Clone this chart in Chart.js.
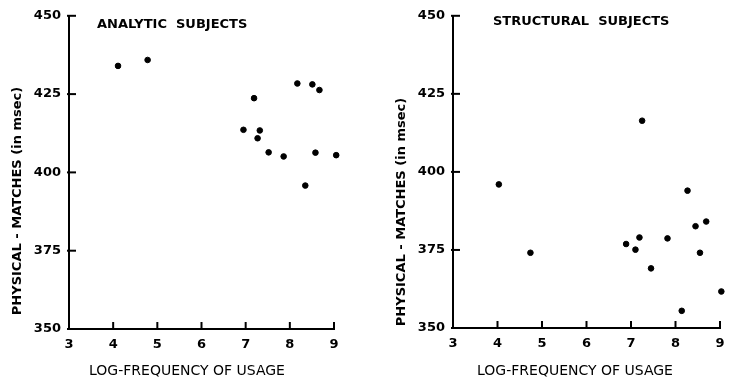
<!DOCTYPE html>
<html>
<head>
<meta charset="utf-8">
<script src="https://cdn.jsdelivr.net/npm/chart.js@4/dist/chart.umd.min.js"></script>
<style>
  body { margin: 0; background: #fff; }
  .panel { position: absolute; top: 0; }
</style>
</head>
<body>
<div class="panel" style="left:0"><canvas id="analytic" width="370" height="382"></canvas></div>
<div class="panel" style="left:370px"><canvas id="structural" width="363" height="382"></canvas></div>
<script>
const xTicks = [3, 4, 5, 6, 7, 8, 9];
const yTicks = [350, 375, 400, 425, 450];

// analytic subjects: log-frequency vs physical-match RT
const analyticFreq = [4.11, 4.78, 8.17, 8.51, 8.67, 7.19, 6.95, 7.32, 7.27, 7.52, 7.86, 8.58, 9.05, 8.35];
const analyticRT = [434.0, 435.9, 428.4, 428.1, 426.3, 423.7, 413.6, 413.4, 410.9, 406.4, 405.1, 406.3, 405.5, 395.8];

// structural subjects
const structuralFreq = [7.25, 4.03, 8.27, 8.45, 8.69, 6.89, 7.19, 7.10, 7.82, 4.74, 8.55, 7.45, 9.03, 8.14];
const structuralRT = [416.4, 396.0, 394.0, 382.6, 384.1, 376.9, 379.0, 375.1, 378.7, 374.1, 374.1, 369.1, 361.7, 355.5];

const FONT = '"DejaVu Sans", sans-serif';

function makeChart(id, freq, rt, title, cfg) {
    const points = freq.map((f, i) => ({ x: f, y: rt[i] }));

    const labels = {
        id: 'labels',
        afterDraw(chart) {
            const ctx = chart.ctx;
            const area = chart.chartArea;
            const xs = chart.scales.x, ys = chart.scales.y;
            ctx.save();
            // tick marks point into the plot, like the original
            ctx.strokeStyle = '#000';
            ctx.lineWidth = 2;
            xTicks.forEach(v => {
                const px = xs.getPixelForValue(v);
                ctx.beginPath();
                ctx.moveTo(px, area.bottom);
                ctx.lineTo(px, area.bottom - 7);
                ctx.stroke();
            });
            yTicks.forEach(v => {
                const py = ys.getPixelForValue(v);
                ctx.beginPath();
                ctx.moveTo(area.left - 2, py);
                ctx.lineTo(area.left + 7, py);
                ctx.stroke();
            });

            ctx.fillStyle = '#000';
            ctx.textBaseline = 'middle';
            ctx.font = 'bold 13px ' + FONT;
            ctx.textAlign = 'left';
            ctx.fillText(title, cfg.titleX, cfg.titleY);

            ctx.font = '14px ' + FONT;
            ctx.textAlign = 'center';
            ctx.fillText('LOG-FREQUENCY OF USAGE', cfg.xTitleX, cfg.xTitleY);

            ctx.font = 'bold 13px ' + FONT;
            ctx.translate(cfg.yTitleX, cfg.yTitleY);
            ctx.rotate(-Math.PI / 2);
            ctx.fillText('PHYSICAL - MATCHES (in msec)', 0, 0);
            ctx.restore();
        }
    };

    return new Chart(document.getElementById(id), {
        type: 'scatter',
        data: {
            datasets: [{
                data: points,
                backgroundColor: '#000',
                borderColor: '#000',
                pointRadius: 2.8,
                pointHoverRadius: 2.8,
                clip: false
            }]
        },
        options: {
            responsive: false,
            animation: false,
            layout: { padding: { left: 0, right: cfg.padRight, top: cfg.padTop, bottom: 0 } },
            plugins: { legend: { display: false }, tooltip: { enabled: false } },
            scales: {
                x: {
                    type: 'linear',
                    min: xTicks[0],
                    max: xTicks[xTicks.length - 1],
                    afterBuildTicks: s => { s.ticks = xTicks.map(v => ({ value: v })); },
                    afterFit: s => { s.height = cfg.xHeight; },
                    grid: { display: false, drawTicks: false },
                    border: { display: true, color: '#000', width: 2 },
                    ticks: { color: '#000', padding: 8, font: { family: FONT, size: 13, weight: 'bold' } }
                },
                y: {
                    type: 'linear',
                    min: yTicks[0],
                    max: yTicks[yTicks.length - 1],
                    afterBuildTicks: s => { s.ticks = yTicks.map(v => ({ value: v })); },
                    afterFit: s => { s.width = cfg.yWidth; },
                    grid: { display: false, drawTicks: false },
                    border: { display: true, color: '#000', width: 2 },
                    ticks: { color: '#000', padding: 8, font: { family: FONT, size: 13, weight: 'bold' } }
                }
            }
        },
        plugins: [labels]
    });
}

makeChart('analytic', analyticFreq, analyticRT, 'ANALYTIC  SUBJECTS', {
    padRight: 36, padTop: 15, xHeight: 53, yWidth: 69,
    titleX: 97, titleY: 25, xTitleX: 187, xTitleY: 371, yTitleX: 18, yTitleY: 201
});
makeChart('structural', structuralFreq, structuralRT, 'STRUCTURAL  SUBJECTS', {
    padRight: 13, padTop: 12, xHeight: 54, yWidth: 83,
    titleX: 123, titleY: 22, xTitleX: 205, xTitleY: 371, yTitleX: 32, yTitleY: 212
});
</script>
</body>
</html>
